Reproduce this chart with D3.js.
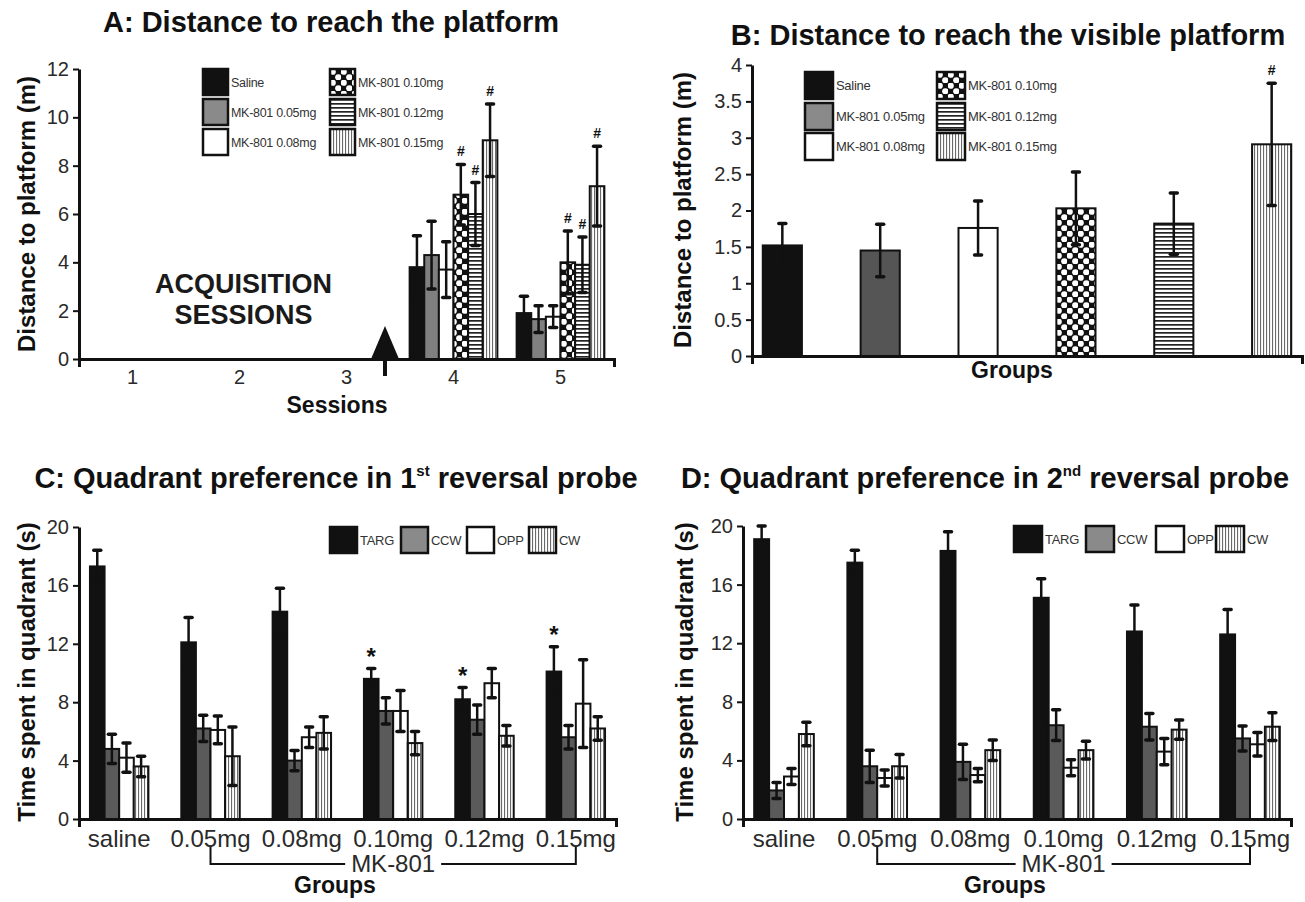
<!DOCTYPE html>
<html>
<head>
<meta charset="utf-8">
<script src="https://cdn.jsdelivr.net/npm/d3@7"></script>
<style>
  body { margin: 0; background: #fff; }
  svg { display: block; }
</style>
</head>
<body>
<script>
// ---- data ----
const sessions = ["1", "2", "3", "4", "5"];
const doseGroups = ["Saline", "MK-801 0.05mg", "MK-801 0.08mg", "MK-801 0.10mg", "MK-801 0.12mg", "MK-801 0.15mg"];

// A: distance to platform (m); sessions 1-3 are acquisition, no bars
const s4Mean = [3.8, 4.3, 3.7, 6.8, 6.0, 9.05];
const s4Sem = [1.3, 1.4, 1.15, 1.25, 1.3, 1.5];
const s4Hash = [0, 0, 0, 1, 1, 1];
const s5Mean = [1.9, 1.65, 1.75, 4.0, 3.9, 7.15];
const s5Sem = [0.7, 0.55, 0.45, 1.3, 1.15, 1.65];
const s5Hash = [0, 0, 0, 1, 1, 1];

// B: visible platform (m)
const visMean = [1.52, 1.45, 1.76, 2.03, 1.82, 2.91];
const visSem = [0.3, 0.36, 0.37, 0.5, 0.42, 0.84];
const visHash = [0, 0, 0, 0, 0, 1];

// C / D: time in quadrant (s)
const groupTicks = ["saline", "0.05mg", "0.08mg", "0.10mg", "0.12mg", "0.15mg"];
const quadrants = ["TARG", "CCW", "OPP", "CW"];

const p1Targ = [17.3, 12.1, 14.2, 9.6, 8.2, 10.1];
const p1TargSem = [1.1, 1.7, 1.6, 0.7, 0.8, 1.7];
const p1Ccw = [4.8, 6.2, 4.0, 7.4, 6.8, 5.6];
const p1CcwSem = [1.0, 0.9, 0.7, 0.9, 1.0, 0.8];
const p1Opp = [4.2, 6.1, 5.6, 7.4, 9.3, 7.9];
const p1OppSem = [1.0, 0.95, 0.7, 1.4, 1.0, 3.0];
const p1Cw = [3.6, 4.3, 5.9, 5.2, 5.7, 6.2];
const p1CwSem = [0.7, 2.0, 1.1, 0.8, 0.7, 0.8];
const p1Star = [0, 0, 0, 1, 1, 1];

const p2Targ = [19.1, 17.5, 18.3, 15.1, 12.8, 12.6];
const p2TargSem = [0.9, 0.85, 1.3, 1.3, 1.8, 1.7];
const p2Ccw = [1.95, 3.6, 3.9, 6.4, 6.3, 5.5];
const p2CcwSem = [0.55, 1.1, 1.2, 1.05, 0.9, 0.85];
const p2Opp = [2.9, 2.8, 3.0, 3.5, 4.6, 5.1];
const p2OppSem = [0.55, 0.55, 0.45, 0.55, 0.9, 0.8];
const p2Cw = [5.8, 3.6, 4.7, 4.7, 6.1, 6.3];
const p2CwSem = [0.8, 0.8, 0.7, 0.6, 0.65, 0.95];

const yTicksA = [0, 2, 4, 6, 8, 10, 12];
const yTicksB = [0, 0.5, 1, 1.5, 2, 2.5, 3, 3.5, 4];
const yTicksCD = [0, 4, 8, 12, 16, 20];

// ---- styles ----
const FONT = "'Liberation Sans', Arial, sans-serif";
const INK = "#111";
const doseFillA = ["#111", "#808080", "#fff", "url(#dots)", "url(#hlines)", "url(#vlines)"];
const doseFillB = ["#111", "#555", "#fff", "url(#dots)", "url(#hlines)", "url(#vlines)"];
const doseFillLegend = ["#111", "#8a8a8a", "#fff", "url(#dots)", "url(#hlines)", "url(#vlines)"];
const quadFill = ["#111", "#5a5a5a", "#fff", "url(#vlines)"];
const quadFillLegend = ["#111", "#8a8a8a", "#fff", "url(#vlines)"];

const svg = d3.select("body").append("svg")
  .attr("width", 1305).attr("height", 902)
  .style("font-family", FONT);

// fill patterns
const defs = svg.append("defs");
const dots = defs.append("pattern").attr("id", "dots")
  .attr("patternUnits", "userSpaceOnUse").attr("width", 11).attr("height", 11);
dots.append("rect").attr("width", 11).attr("height", 11).attr("fill", "#111");
dots.selectAll("circle").data([[2.75, 2.75], [8.25, 8.25]]).enter().append("circle")
  .attr("cx", d => d[0]).attr("cy", d => d[1]).attr("r", 3.1).attr("fill", "#fff");

const hl = defs.append("pattern").attr("id", "hlines")
  .attr("patternUnits", "userSpaceOnUse").attr("width", 6).attr("height", 4);
hl.append("rect").attr("width", 6).attr("height", 4).attr("fill", "#fff");
hl.append("rect").attr("width", 6).attr("height", 1.7).attr("fill", "#222");

const vl = defs.append("pattern").attr("id", "vlines")
  .attr("patternUnits", "userSpaceOnUse").attr("width", 3).attr("height", 6);
vl.append("rect").attr("width", 3).attr("height", 6).attr("fill", "#fff");
vl.append("rect").attr("width", 1.1).attr("height", 6).attr("fill", "#6a6a6a");

// ---- helpers ----
function yAxis(x0, y, ticks) {
  const g = svg.append("g")
    .attr("transform", `translate(${x0},0)`)
    .call(d3.axisLeft(y).tickValues(ticks).tickFormat(d => d).tickSize(6).tickPadding(4).tickSizeOuter(0));
  g.attr("font-family", FONT).attr("color", INK);
  g.select(".domain").attr("stroke-width", 3);
  g.selectAll(".tick line").attr("stroke-width", 2);
  g.selectAll(".tick text").attr("font-size", 20).attr("fill", "#2a2a2a");
  return g;
}

function xAxis(y0, x, labels, fontSize) {
  const g = svg.append("g")
    .attr("transform", `translate(0,${y0})`)
    .call(d3.axisBottom(x).tickSize(0).tickSizeOuter(8).tickPadding(11)
      .tickFormat((d, i) => labels ? labels[i] : ""));
  g.attr("font-family", FONT).attr("color", INK);
  g.select(".domain").attr("stroke-width", 3);
  g.selectAll(".tick text").attr("font-size", fontSize || 20).attr("fill", "#2a2a2a");
  return g;
}

function drawBars(recs, y) {
  const g = svg.append("g");
  g.selectAll("rect").data(recs).enter().append("rect")
    .attr("x", d => d.x).attr("y", d => y(d.v))
    .attr("width", d => d.w).attr("height", d => y(0) - y(d.v))
    .attr("fill", d => d.fill).attr("stroke", INK).attr("stroke-width", 2);

  const e = g.selectAll("g.err").data(recs).enter().append("g").attr("class", "err")
    .attr("stroke", INK).attr("stroke-linecap", "round");
  e.append("line")
    .attr("x1", d => d.x + d.w / 2).attr("x2", d => d.x + d.w / 2)
    .attr("y1", d => y(d.v - d.e)).attr("y2", d => y(d.v + d.e))
    .attr("stroke-width", 2.5);
  e.append("line")
    .attr("x1", d => d.x + d.w / 2 - 3.5).attr("x2", d => d.x + d.w / 2 + 3.5)
    .attr("y1", d => y(d.v + d.e)).attr("y2", d => y(d.v + d.e))
    .attr("stroke-width", 3.5);
  e.append("line")
    .attr("x1", d => d.x + d.w / 2 - 3.5).attr("x2", d => d.x + d.w / 2 + 3.5)
    .attr("y1", d => y(d.v - d.e)).attr("y2", d => y(d.v - d.e))
    .attr("stroke-width", 3.5);

  g.selectAll("text.sig").data(recs.filter(d => d.mark)).enter().append("text")
    .attr("class", "sig")
    .attr("x", d => d.x + d.w / 2)
    .attr("y", d => y(d.v + d.e) - (d.mark === "*" ? 4 : 8))
    .attr("text-anchor", "middle")
    .attr("font-size", d => d.mark === "*" ? 24 : 14)
    .attr("font-weight", "bold")
    .attr("fill", INK)
    .text(d => d.mark);
}

function legend(names, fills, xs, ys, bw, bh, fs) {
  const g = svg.append("g");
  names.forEach((n, i) => {
    const item = g.append("g").attr("transform", `translate(${xs[i]},${ys[i]})`);
    item.append("rect").attr("width", bw).attr("height", bh)
      .attr("fill", fills[i]).attr("stroke", INK).attr("stroke-width", 2.5);
    item.append("text").attr("x", bw + 3).attr("y", bh / 2).attr("dy", "0.36em")
      .attr("font-size", fs).attr("fill", "#333").attr("letter-spacing", -0.3).text(n);
  });
}

function yLabel(x, yMid, txt) {
  svg.append("text")
    .attr("transform", `translate(${x},${yMid}) rotate(-90)`)
    .attr("text-anchor", "middle").attr("font-size", 24).attr("font-weight", "bold")
    .attr("fill", INK).text(txt);
}

function label(x, y, txt, size, bold) {
  return svg.append("text").attr("x", x).attr("y", y).attr("text-anchor", "middle")
    .attr("font-size", size).attr("font-weight", bold ? "bold" : "normal")
    .attr("fill", INK).text(txt);
}

function title(x, y, main, sup, rest) {
  const t = svg.append("text").attr("x", x).attr("y", y).attr("text-anchor", "middle")
    .attr("font-size", 29).attr("font-weight", "bold").attr("fill", INK);
  t.append("tspan").text(main);
  if (sup) {
    t.append("tspan").attr("font-size", 15).attr("dy", -12).text(sup);
    t.append("tspan").attr("dy", 12).text(rest);
  }
}

// ---- Panel A ----
const xA = d3.scaleBand().domain(sessions).range([79, 614]).paddingInner(0.18).paddingOuter(0.09);
const xAin = d3.scaleBand().domain(doseGroups).range([0, xA.bandwidth()]);
const yA = d3.scaleLinear().domain([0, 12]).range([359, 69]);

const aRows = [
  { s: "4", m: s4Mean, e: s4Sem, h: s4Hash },
  { s: "5", m: s5Mean, e: s5Sem, h: s5Hash }
];
const aRecs = [];
aRows.forEach(r => doseGroups.forEach((g, i) => aRecs.push({
  x: xA(r.s) + xAin(g), w: xAin.bandwidth(), v: r.m[i], e: r.e[i],
  fill: doseFillA[i], mark: r.h[i] ? "#" : null
})));

title(331, 32, "A: Distance to reach the platform");
drawBars(aRecs, yA);
xAxis(yA(0), xA, sessions, 20);
yAxis(79, yA, yTicksA);
yLabel(35, 214, "Distance to platform (m)");
label(337, 413, "Sessions", 23, true);

const acqX = xA("2") + xA.bandwidth() / 2 + 4;
label(acqX, 293, "ACQUISITION", 27, true).attr("fill", "#1a1a1a");
label(acqX, 324, "SESSIONS", 27, true).attr("fill", "#1a1a1a");

// arrow marking end of acquisition
const arrowX = (xA("3") + xA("4")) / 2 + xA.bandwidth() / 2 - 15;
svg.append("path")
  .attr("d", `M${arrowX},${yA(0) - 33} L${arrowX + 14},${yA(0)} L${arrowX - 14},${yA(0)} Z`)
  .attr("fill", INK);
svg.append("line").attr("x1", arrowX).attr("x2", arrowX)
  .attr("y1", yA(0)).attr("y2", yA(0) + 17).attr("stroke", INK).attr("stroke-width", 4);

legend(doseGroups, doseFillLegend,
  [203, 203, 203, 330, 330, 330], [69, 99, 129, 69, 99, 129], 25, 26, 12.5);

// ---- Panel B ----
const xB = d3.scaleBand().domain(doseGroups).range([752, 1302]).paddingInner(0.6).paddingOuter(0.11);
const yB = d3.scaleLinear().domain([0, 4]).range([356, 65]);
const bRecs = doseGroups.map((g, i) => ({
  x: xB(g), w: xB.bandwidth(), v: visMean[i], e: visSem[i],
  fill: doseFillB[i], mark: visHash[i] ? "#" : null
}));

title(1008, 45, "B: Distance to reach the visible platform");
drawBars(bRecs, yB);
xAxis(yB(0), xB, null);
yAxis(752, yB, yTicksB);
yLabel(691, 210, "Distance to platform (m)");
label(1012, 378, "Groups", 23, true);
legend(doseGroups, doseFillLegend,
  [805, 805, 805, 937, 937, 937], [72, 103, 133, 72, 103, 133], 28, 27, 13);

// ---- Panels C and D ----
function quadPanel(p) {
  const x = d3.scaleBand().domain(groupTicks).range(p.xr).paddingInner(0.36).paddingOuter(0.12);
  const xin = d3.scaleBand().domain(quadrants).range([0, x.bandwidth()]);
  const y = d3.scaleLinear().domain([0, 20]).range(p.yr);
  const recs = [];
  groupTicks.forEach((g, i) => quadrants.forEach((q, j) => recs.push({
    x: x(g) + xin(q), w: xin.bandwidth(), v: p.means[j][i], e: p.sems[j][i],
    fill: quadFill[j], mark: (j === 0 && p.stars && p.stars[i]) ? "*" : null
  })));

  title(p.titleX, 488, p.title[0], p.title[1], p.title[2]);
  drawBars(recs, y);
  xAxis(y(0), x, groupTicks, 24);
  yAxis(p.xr[0], y, yTicksCD);
  yLabel(p.labelX, 672, "Time spent in quadrant (s)");

  // MK-801 bracket under the drug groups
  const bx1 = x("0.05mg") + x.bandwidth() / 2;
  const bx2 = x("0.15mg") + x.bandwidth() / 2;
  const bmid = (x("0.10mg") + x.bandwidth() / 2);
  const by = y(0) + 45;
  const br = svg.append("g").attr("stroke", INK).attr("stroke-width", 2).attr("fill", "none");
  br.append("path").attr("d", `M${bx1},${by - 17} V${by} H${bmid - 48}`);
  br.append("path").attr("d", `M${bmid + 48},${by} H${bx2} V${by - 17}`);
  label(bmid, by + 8, "MK-801", 24, false).attr("fill", "#2a2a2a");
  label(p.groupsX, 893, "Groups", 23, true);

  legend(quadrants, quadFillLegend, p.legX, [p.legY, p.legY, p.legY, p.legY], p.legW, 26, 13);
}

quadPanel({
  xr: [79, 616], yr: [819, 527],
  means: [p1Targ, p1Ccw, p1Opp, p1Cw], sems: [p1TargSem, p1CcwSem, p1OppSem, p1CwSem],
  stars: p1Star,
  title: ["C: Quadrant preference in 1", "st", " reversal probe"], titleX: 336,
  labelX: 35, groupsX: 335,
  legX: [330, 401, 467, 529], legY: 527, legW: 27
});

quadPanel({
  xr: [743, 1291], yr: [819, 526],
  means: [p2Targ, p2Ccw, p2Opp, p2Cw], sems: [p2TargSem, p2CcwSem, p2OppSem, p2CwSem],
  stars: null,
  title: ["D: Quadrant preference in 2", "nd", " reversal probe"], titleX: 985,
  labelX: 693, groupsX: 1005,
  legX: [1014, 1086, 1156, 1216], legY: 526, legW: 28
});
</script>
</body>
</html>
